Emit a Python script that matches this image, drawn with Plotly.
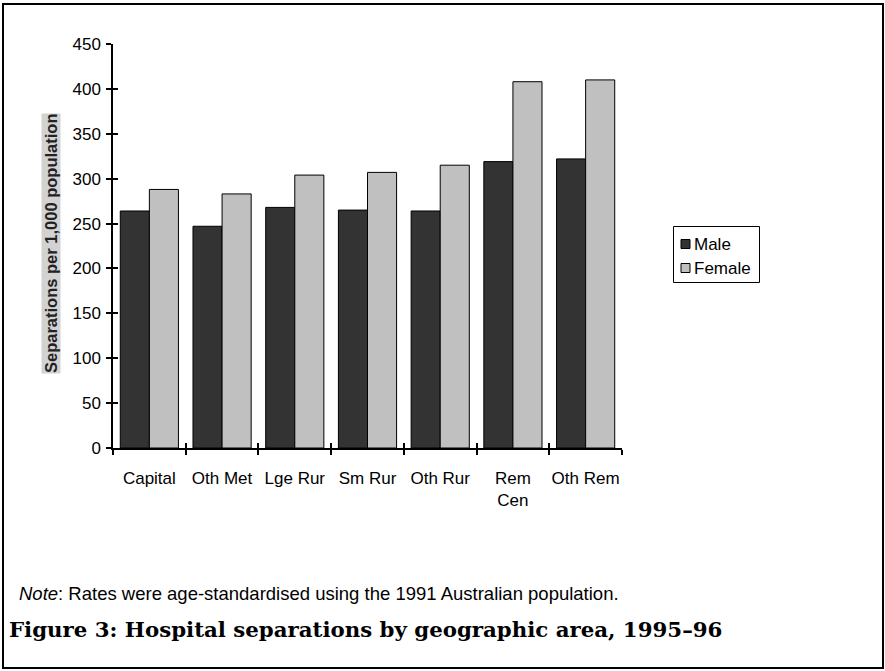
import plotly.graph_objects as go

categories = ["Capital", "Oth Met", "Lge Rur", "Sm Rur", "Oth Rur", "Rem<br>Cen", "Oth Rem"]
male = [264, 247, 268, 265, 264, 319, 322]
female = [288, 283, 304, 307, 315, 408, 410]
y_ticks = [0, 50, 100, 150, 200, 250, 300, 350, 400, 450]
series_names = ["Male", "Female"]
series_colors = ["#333333", "#c0c0c0"]

W, H = 885, 671
L, R, T, B = 113, 263, 44, 223
PW, PH = W - L - R, H - T - B

def px(x):
    return (x - L) / PW

def py(y):
    return (H - B - y) / PH

FONT = "Liberation Sans, Arial, sans-serif"
FS = 17

fig = go.Figure()
for name, vals, col in zip(series_names, [male, female], series_colors):
    fig.add_trace(go.Bar(x=categories, y=vals, name=name,
                         marker=dict(color=col, line=dict(color="black", width=1))))
# invisible trace to carry the inner half of the crossing tick marks
fig.add_trace(go.Scatter(x=categories, y=male, xaxis="x2", yaxis="y2", mode="markers",
                         marker=dict(opacity=0), showlegend=False, hoverinfo="skip"))

shapes = [
    dict(type="rect", xref="paper", yref="paper", x0=px(3), x1=px(883),
         y0=py(668), y1=py(4), line=dict(color="black", width=2), layer="below"),
    # legend box
    dict(type="rect", xref="paper", yref="paper", x0=px(673.5), x1=px(759.5),
         y0=py(282.5), y1=py(226.5), line=dict(color="black", width=1), fillcolor="white"),
]
annotations = [
    dict(text="<b>Separations per 1,000 population</b>", textangle=-90,
         xref="paper", yref="paper", x=px(51), y=py(244), xanchor="center",
         yanchor="middle", showarrow=False,
         font=dict(family=FONT, size=16.5, color="#222222"), bgcolor="#d2d2d2",
         borderpad=0),
    dict(text="<i>Note</i>: Rates were age-standardised using the 1991 Australian population.",
         xref="paper", yref="paper", x=px(17), y=py(593), xanchor="left",
         yanchor="middle", showarrow=False, font=dict(family=FONT, size=18.5, color="black")),
    dict(text="<b>Figure 3: Hospital separations by geographic area, 1995–96</b>",
         xref="paper", yref="paper", x=px(7), y=py(629), xanchor="left",
         yanchor="middle", showarrow=False,
         font=dict(family="DejaVu Serif, serif", size=21.3, color="black")),
]
# legend entries
for i, (name, col) in enumerate(zip(series_names, series_colors)):
    yc = 244 + 24 * i
    shapes.append(dict(type="rect", xref="paper", yref="paper",
                       x0=px(681), x1=px(690), y0=py(yc + 4.5), y1=py(yc - 4.5),
                       fillcolor=col, line=dict(color="black", width=1)))
    annotations.append(dict(text=name, xref="paper", yref="paper", x=px(692), y=py(yc),
                            xanchor="left", yanchor="middle", showarrow=False,
                            font=dict(family=FONT, size=FS, color="black")))

fig.update_layout(
    width=W, height=H,
    margin=dict(l=L, r=R, t=T, b=B),
    paper_bgcolor="white", plot_bgcolor="white",
    barmode="group", bargap=0.2, bargroupgap=0,
    font=dict(family=FONT, size=FS, color="black"),
    showlegend=False,
    xaxis=dict(type="category", showline=True, linecolor="black", linewidth=1.5,
               ticks="outside", ticklen=5, tickcolor="black", tickwidth=1.5,
               tickson="boundaries", showgrid=False, zeroline=False, tickangle=0,
               ticklabelstandoff=14, tickfont=dict(family=FONT, size=FS)),
    yaxis=dict(range=[0, 450], tickvals=y_ticks, showline=True, linecolor="black",
               linewidth=1.5, ticks="outside", ticklen=5, tickcolor="black",
               tickwidth=1.5, showgrid=False, zeroline=False, ticklabelstandoff=2,
               tickfont=dict(family=FONT, size=FS)),
    xaxis2=dict(type="category", overlaying="x", matches="x", ticks="inside", ticklen=5,
                tickcolor="black", tickwidth=1.5, tickson="boundaries",
                showticklabels=False, showgrid=False, zeroline=False, showline=False),
    yaxis2=dict(range=[0, 450], tickvals=y_ticks, overlaying="y", ticks="inside",
                ticklen=5, tickcolor="black", tickwidth=1.5, showticklabels=False,
                showgrid=False, zeroline=False, showline=False),
    annotations=annotations,
    shapes=shapes,
)

fig.write_html("out.html", config={"displayModeBar": False},
               post_script="document.body.style.margin='0';")
